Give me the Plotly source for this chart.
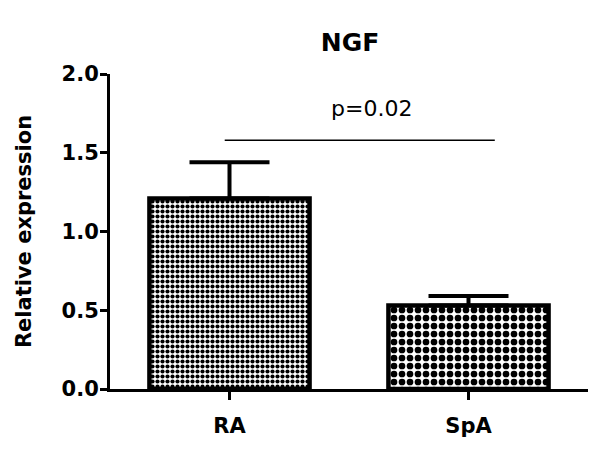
import plotly.graph_objects as go

# data
categories = ["RA", "SpA"]
means = [1.21, 0.53]
errors_up = [0.23, 0.06]
errors_down = [0.0, 0.0]
pattern_sizes = [5, 8]
y_ticks = [0.0, 0.5, 1.0, 1.5, 2.0]
y_tick_labels = ["0.0", "0.5", "1.0", "1.5", "2.0"]
p_label = "p=0.02"
sig_y = 1.58
sig_x = [-0.02, 1.11]

FONT = "DejaVu Sans, sans-serif"

fig = go.Figure()
for i, cat in enumerate(categories):
    fig.add_trace(go.Bar(
        x=[cat], y=[means[i]],
        width=0.67,
        marker=dict(
            color="white",
            line=dict(color="black", width=4.5),
            pattern=dict(shape=".", size=pattern_sizes[i], solidity=0.55,
                         fgcolor="black", fgopacity=1, bgcolor="white",
                         fillmode="replace"),
        ),
        error_y=dict(type="data", symmetric=False, array=[errors_up[i]],
                     arrayminus=[errors_down[i]], color="black",
                     thickness=4, width=40),
        showlegend=False,
    ))

fig.add_shape(type="line", xref="x", yref="y", x0=sig_x[0], x1=sig_x[1],
              y0=sig_y, y1=sig_y, line=dict(color="black", width=1.5))
fig.add_annotation(x=(sig_x[0] + sig_x[1]) / 2 + 0.05, y=sig_y, yshift=32,
                   text=p_label, showarrow=False,
                   font=dict(family=FONT, size=22, color="black"))

fig.update_layout(
    width=600, height=449,
    margin=dict(l=110, r=12, t=74, b=60),
    plot_bgcolor="white", paper_bgcolor="white",
    title=dict(text="<b>NGF</b>", x=(110 + 240) / 600, xanchor="center",
               y=1 - 42 / 449, yanchor="middle",
               font=dict(family=FONT, size=25, color="black")),
    xaxis=dict(range=[-0.5, 1.5], showline=True, linecolor="black", linewidth=3,
               ticks="outside", ticklen=8, tickwidth=3, tickcolor="black",
               ticklabelstandoff=8,
               tickfont=dict(family=FONT, size=21, color="black"),
               showgrid=False, zeroline=False,
               tickvals=categories, ticktext=["<b>%s</b>" % c for c in categories]),
    yaxis=dict(range=[0, 2], showline=True, linecolor="black", linewidth=3,
               ticks="outside", ticklen=7, tickwidth=3, tickcolor="black",
               ticklabelstandoff=-3,
               tickvals=y_ticks, ticktext=["<b>%s</b>" % t for t in y_tick_labels],
               tickfont=dict(family=FONT, size=21, color="black"),
               showgrid=False, zeroline=False,
               title=dict(text="<b>Relative expression</b>", standoff=25,
                          font=dict(family=FONT, size=21, color="black"))),
)

fig.write_html("out.html", config={"displayModeBar": False},
               post_script="document.body.style.margin='0';")
